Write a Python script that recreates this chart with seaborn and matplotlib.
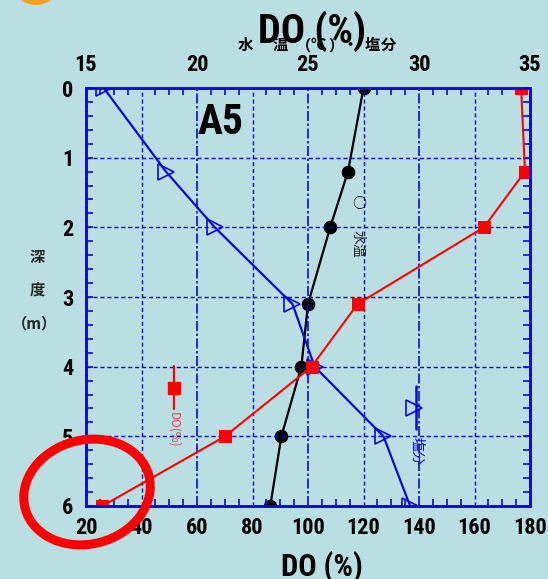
import numpy as np
import pandas as pd
import matplotlib
matplotlib.use("Agg")
import matplotlib.pyplot as plt
import seaborn as sns
from matplotlib import font_manager
from matplotlib.font_manager import FontProperties
from matplotlib.patches import Ellipse
from matplotlib.lines import Line2D
from matplotlib.transforms import IdentityTransform
from matplotlib.ticker import MultipleLocator

# ---------------- data ----------------
depth = [0, 1.2, 2, 3.1, 4, 5, 6]
do_pct = [176.8, 178.2, 163.4, 117.9, 101.3, 70.1, 25.9]
water_temp = [27.5, 26.8, 26.0, 25.0, 24.7, 23.8, 23.3]
salinity = [15.8, 18.6, 20.8, 24.3, 25.3, 28.4, 29.6]
do_ticks = [20, 40, 60, 80, 100, 120, 140, 160, 180]
top_ticks = [15, 20, 25, 30, 35]
depth_ticks = [0, 1, 2, 3, 4, 5, 6]
station = "A5"

# ---------------- style ----------------
sns.set_theme(style="white")
plt.rcParams["font.family"] = ["Noto Sans CJK JP", "DejaVu Sans"]

# look for a condensed bold face; fall back to DejaVu Sans bold
cands = []
for f in font_manager.fontManager.ttflist:
    fn = f.fname.lower()
    if ("condensed" in fn or "narrow" in fn or str(f.stretch) in ("condensed", "semi-condensed", "extra-condensed")) \
            and ("bold" in fn or (isinstance(f.weight, int) and f.weight >= 600) or f.weight == "bold") \
            and "italic" not in fn and "oblique" not in fn:
        cands.append(f.fname)
pref = ["liberationsansnarrow", "robotocondensed", "dejavusanscondensed", "notosans"]
cands.sort(key=lambda p: next((i for i, k in enumerate(pref) if k in p.lower().replace("-", "").replace("_", "")), 99))
if cands:
    cond_path = cands[0]
    FP = lambda size: FontProperties(fname=cond_path, size=size)
else:
    FP = lambda size: FontProperties(family="DejaVu Sans", weight="bold", size=size * 0.82)

BG = "#BADFE2"
RED = "#FF0000"
BLUE = "#0A0AD8"
W, H = 548, 579

fig = plt.figure(figsize=(W / 100, H / 100), dpi=100, facecolor=BG)
ax = fig.add_axes([86 / W, 1 - 506 / H, 444 / W, 418 / H])
ax2 = ax.twiny()
ax.set_zorder(ax2.get_zorder() + 1)
ax.patch.set_visible(False)
ax2.patch.set_facecolor(BG)

df = pd.DataFrame({"depth": depth, "do": do_pct, "temp": water_temp, "sal": salinity})

sns.lineplot(data=df, x="temp", y="depth", sort=False, estimator=None, ax=ax2,
             color="black", lw=1.6, marker="o", markersize=9,
             markeredgecolor="black", markerfacecolor="black")
sns.lineplot(data=df, x="sal", y="depth", sort=False, estimator=None, ax=ax2,
             color=BLUE, lw=1.6, marker=">", markersize=11,
             markeredgecolor=BLUE, markerfacecolor="none", markeredgewidth=1.2)
sns.lineplot(data=df, x="do", y="depth", sort=False, estimator=None, ax=ax,
             color=RED, lw=1.5, marker="s", markersize=8.5,
             markeredgecolor=RED, markerfacecolor=RED)

ax.set_xlim(20, 180)
ax.set_ylim(6, 0)
ax2.set_xlim(15, 35)
ax2.set_ylim(6, 0)
for a in (ax, ax2):
    a.set_xlabel("")
    a.set_ylabel("")

# ticks
ax.set_xticks(do_ticks)
ax.set_xticklabels([str(t) for t in do_ticks])
ax.xaxis.set_minor_locator(MultipleLocator(5))
ax.set_yticks(depth_ticks)
ax.set_yticklabels([str(t) for t in depth_ticks])
ax.yaxis.set_minor_locator(MultipleLocator(0.2))
ax.tick_params(axis="x", which="major", length=0, pad=8,
               bottom=True, top=False, labelbottom=True, labeltop=False)
ax.tick_params(axis="x", which="minor", direction="in", length=5, width=1.2,
               color=BLUE, bottom=True, top=True)
ax.tick_params(axis="y", which="major", direction="in", length=5, width=1.2,
               color=BLUE, pad=9, left=True, right=True)
ax.tick_params(axis="y", which="minor", direction="in", length=5, width=1.2,
               color=BLUE, left=True, right=True)

ax2.set_xticks(top_ticks)
ax2.set_xticklabels([str(t) for t in top_ticks])
ax2.tick_params(axis="x", which="major", length=0, pad=9)
ax2.tick_params(axis="y", left=False, right=False, labelleft=False, labelright=False)
ax2.grid(False)

for lab in ax.get_xticklabels() + ax.get_yticklabels() + ax2.get_xticklabels():
    lab.set_fontproperties(FP(16))
    lab.set_color("black")

# grid
ax.grid(True, which="major", color=BLUE, lw=1.0)
ax.set_axisbelow(True)
for val, gl in zip(do_ticks, ax.xaxis.get_gridlines()):
    if val in (20, 60, 100, 140, 180):
        gl.set_linestyle((0, (6, 1.5, 1.5, 1.5)))
        gl.set_linewidth(1.2)
    else:
        gl.set_linestyle((0, (3, 2)))
for gl in ax.yaxis.get_gridlines():
    gl.set_linestyle((0, (3, 2)))

for a in (ax, ax2):
    for sp in a.spines.values():
        sp.set_color(BLUE)
        sp.set_linewidth(1.8)
        sp.set_linestyle((0, (4, 0.8)))

# ---------------- texts ----------------
def fx(x):
    return x / W

def fy(y):
    return 1 - y / H

fig.text(fx(312), fy(31), "DO (%)", fontproperties=FP(29),
         ha="center", va="center", color="black")
for ch, x in [("水", 245), ("温", 280), ("（", 303), ("℃", 318), ("）", 336),
              ("・", 350), ("塩", 372), ("分", 388)]:
    fig.text(fx(x), fy(45), ch, fontsize=11, fontweight="bold",
             ha="center", va="center", color="black")

fig.text(fx(322), fy(567), "DO (%)", fontproperties=FP(22),
         ha="center", va="center", color="black")

fig.text(fx(37), fy(257), "深", fontsize=11, fontweight="bold", ha="center", va="center")
fig.text(fx(37), fy(290), "度", fontsize=11, fontweight="bold", ha="center", va="center")
fig.text(fx(35), fy(323), "（m）", fontsize=11, fontweight="bold", ha="center", va="center")

fig.text(fx(221), fy(122), station, fontproperties=FP(30),
         ha="center", va="center", color="black")

# inline legend labels
fig.text(fx(359), fy(204), "○", fontsize=10, ha="center", va="center", color="black")
fig.text(fx(358), fy(244), "水温", fontsize=10, rotation=-90, ha="center", va="center",
         color="#222222")
fig.text(fx(174), fy(430), "DO(%)", fontsize=8.5, rotation=-90, ha="center", va="center",
         color="#E04848")
fig.text(fx(417), fy(451), "塩分", fontsize=10, rotation=-90, ha="center", va="center",
         color=BLUE)

ID = IdentityTransform()
def P(x, y):
    return (x, H - y)

fig.add_artist(Line2D([174, 174], [H - 366, H - 409], transform=ID, color=RED, lw=1.6))
fig.add_artist(Line2D([174], [H - 388], transform=ID, color=RED, marker="s",
                      markersize=8.5, markerfacecolor=RED, markeredgecolor=RED))
fig.add_artist(Line2D([416, 416], [H - 386, H - 429], transform=ID, color=BLUE, lw=1.8))
fig.add_artist(Line2D([414], [H - 408], transform=ID, color=BLUE, marker=">",
                      markersize=11, markerfacecolor="none", markeredgecolor=BLUE,
                      markeredgewidth=1.2))

# decorations
fig.add_artist(Ellipse(P(36, -14), 44, 38, transform=ID, facecolor="#F5A21E",
                       edgecolor="none", zorder=10))
fig.add_artist(Ellipse(P(87, 492), 128, 104, angle=15, transform=ID, facecolor="none",
                       edgecolor=RED, linewidth=6.5, zorder=10))

fig.savefig("out.png", dpi=100, facecolor=BG)
